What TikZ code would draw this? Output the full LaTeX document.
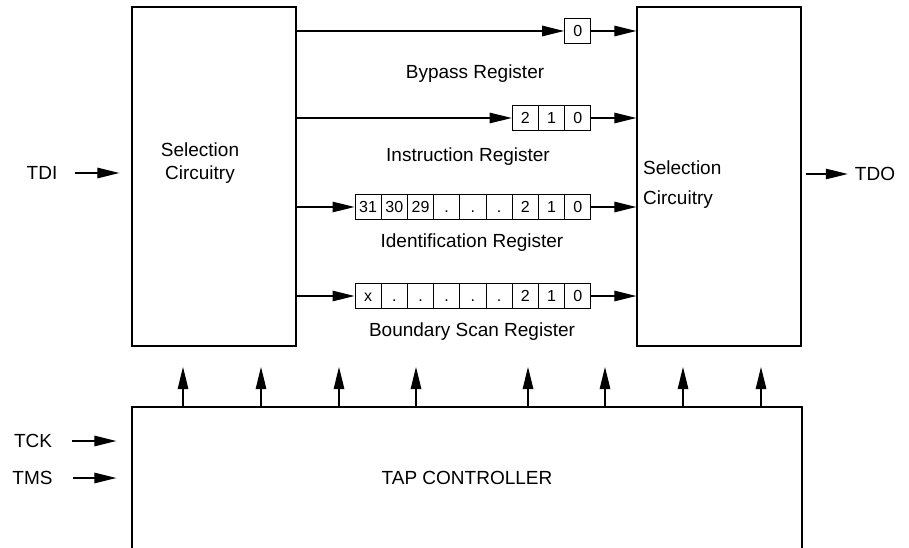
\documentclass[tikz,border=0pt]{standalone}
\usepackage{fontspec}
\setmainfont{Liberation Sans}
\usetikzlibrary{arrows.meta,positioning}

\begin{document}
\begin{tikzpicture}[x=1pt,y=-1pt]
	\tikzstyle{Block}	= [draw, line width=1.3pt, inner sep=0pt]
	\tikzstyle{Cell}	= [draw, line width=1pt, minimum width=26.2pt, minimum height=25pt, inner sep=0pt, text height=11.5pt, text depth=0pt, font=\fontsize{16}{16}\selectfont]
	\tikzstyle{Txt}		= [inner sep=0pt, font=\fontsize{19}{23}\selectfont]
	\tikzstyle{Sig}		= [line width=1.2pt, -{Triangle[length=22pt,width=10.5pt]}]

	\useasboundingbox (0,0) rectangle (909,548);
	\clip (0,0) rectangle (909,548);

	% selection blocks and TAP controller
	\node (selL) at (214,176.5) [Block, minimum width=164pt, minimum height=339pt] {};
	\node (selR) at (719,176.5) [Block, minimum width=164pt, minimum height=339pt] {};
	\node (tap) at (467,478) [Block, minimum width=670pt, minimum height=142pt, font=\fontsize{19}{23}\selectfont] {TAP CONTROLLER};

	\node (selLtxt) at (200,163) [Txt, align=center] {Selection\\Circuitry};
	\node (selRtxt1) at (643,168) [Txt, anchor=west] {Selection};
	\node (selRtxt2) at (643,200) [Txt, anchor=west] {Circuitry};

	% bypass register
	\node (bp0) at (577.7,31) [Cell] {0};
	\node (bpLab) at (475,74) [Txt] {Bypass Register};

	% instruction register
	\node (ir1) at (525.3,118) [Cell] {2};
	\node (ir2) at (551.5,118) [Cell] {1};
	\node (ir3) at (577.7,118) [Cell] {0};
	\node (irLab) at (468,157) [Txt] {Instruction Register};

	% identification register
	\node (id1) at (368.1,207) [Cell] {31};
	\node (id2) at (394.3,207) [Cell] {30};
	\node (id3) at (420.5,207) [Cell] {29};
	\node (id4) at (446.7,207) [Cell] {.};
	\node (id5) at (472.9,207) [Cell] {.};
	\node (id6) at (499.1,207) [Cell] {.};
	\node (id7) at (525.3,207) [Cell] {2};
	\node (id8) at (551.5,207) [Cell] {1};
	\node (id9) at (577.7,207) [Cell] {0};
	\node (idLab) at (472,243) [Txt] {Identification Register};

	% boundary scan register
	\node (bs1) at (368.1,296) [Cell] {x};
	\node (bs2) at (394.3,296) [Cell] {.};
	\node (bs3) at (420.5,296) [Cell] {.};
	\node (bs4) at (446.7,296) [Cell] {.};
	\node (bs5) at (472.9,296) [Cell] {.};
	\node (bs6) at (499.1,296) [Cell] {.};
	\node (bs7) at (525.3,296) [Cell] {2};
	\node (bs8) at (551.5,296) [Cell] {1};
	\node (bs9) at (577.7,296) [Cell] {0};
	\node (bsLab) at (472,332) [Txt] {Boundary Scan Register};

	% pins
	\node (tdi) at (42,173) [Txt] {TDI};
	\node (tdo) at (875,174) [Txt] {TDO};
	\node (tck) at (33,441) [Txt] {TCK};
	\node (tms) at (32.5,478) [Txt] {TMS};

	\draw [Sig] (selL.east |- bp0.west) to (bp0.west);
	\draw [Sig] (selL.east |- ir1.west) to (ir1.west);
	\draw [Sig] (selL.east |- id1.west) to (id1.west);
	\draw [Sig] (selL.east |- bs1.west) to (bs1.west);

	\draw [Sig] (bp0.east) to (bp0.east -| selR.west);
	\draw [Sig] (ir3.east) to (ir3.east -| selR.west);
	\draw [Sig] (id9.east) to (id9.east -| selR.west);
	\draw [Sig] (bs9.east) to (bs9.east -| selR.west);

	\draw [Sig, shorten <=17pt, shorten >=12pt] (tdi.east) to (tdi.east -| selL.west);
	\draw [Sig, shorten <=4pt, shorten >=7pt] (selR.east |- tdo.west) to (tdo.west);
	\draw [Sig, shorten <=20pt, shorten >=15pt] (tck.east) to (tck.east -| tap.west);
	\draw [Sig, shorten <=20pt, shorten >=15pt] (tms.east) to (tms.east -| tap.west);

	% control lines up from the TAP controller
	\coordinate (c1) at (183,367);
	\coordinate (c2) at (261,367);
	\coordinate (c3) at (339,367);
	\coordinate (c4) at (416,367);
	\coordinate (c5) at (528,367);
	\coordinate (c6) at (605,367);
	\coordinate (c7) at (683,367);
	\coordinate (c8) at (761,367);

	\draw [Sig] (c1 |- tap.north) to (c1);
	\draw [Sig] (c2 |- tap.north) to (c2);
	\draw [Sig] (c3 |- tap.north) to (c3);
	\draw [Sig] (c4 |- tap.north) to (c4);
	\draw [Sig] (c5 |- tap.north) to (c5);
	\draw [Sig] (c6 |- tap.north) to (c6);
	\draw [Sig] (c7 |- tap.north) to (c7);
	\draw [Sig] (c8 |- tap.north) to (c8);
\end{tikzpicture}
\end{document}
